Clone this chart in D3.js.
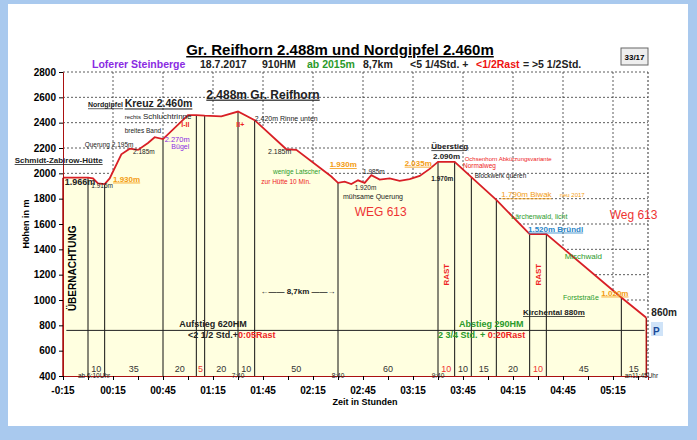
<!DOCTYPE html>
<html><head><meta charset="utf-8">
<script src="https://cdn.jsdelivr.net/npm/d3@7"></script>
<style>body{margin:0;background:#a9c9ee;font-family:Arial,"Liberation Sans",sans-serif}</style>
</head><body><svg id="c" width="697" height="440"></svg>
<script>
// profile: time in minutes from start, elevation in m
const profileTime = [-15,0,3,6,10,13,20,25,30,36,40,45,60,65,70,80,90,100,119,125,146,150,154,158,162,166,170,175,181,187,193,199,205,210,220,230,245,265,275,320,335];
const profileElev = [1966,1966,1960,1920,1915,1960,2150,2195,2185,2240,2285,2270,2460,2460,2455,2450,2488,2420,2190,2185,1975,1925,1935,1915,1945,1925,1985,1950,1960,1940,1955,1980,2035,2090,2090,1970,1790,1520,1520,1020,860];
const segTimes = [0,10,45,65,70,90,100,150,210,220,230,245,265,275,320];
const segLabels = ["10","35","20","5","20","10","50","60","10","10","15","20","10","45","15"];
const segRest = [false,false,false,true,false,false,false,false,true,false,false,false,true,false,false];
const xTickTimes = [-15,15,45,75,105,135,165,195,225,255,285,315];
const xTickLabels = ["-0:15","00:15","00:45","01:15","01:45","02:15","02:45","03:15","03:45","04:15","04:45","05:15"];
const yTicks = [400,600,800,1000,1200,1400,1600,1800,2000,2200,2400,2600,2800];

const svg = d3.select("#c");
svg.append("rect").attr("x",8).attr("y",4).attr("width",680).attr("height",422).attr("fill","#fff");
const x = d3.scaleLinear().domain([-15,336]).range([63,648]);
const y = d3.scaleLinear().domain([400,2800]).range([376,72]);
const pts = profileTime.map((t,i)=>[t,profileElev[i]]);

const g = svg.append("g");
yTicks.slice(1).forEach(v=>g.append("line").attr("x1",63).attr("x2",648).attr("y1",y(v)).attr("y2",y(v)).attr("stroke","#333").attr("stroke-dasharray","2,2").attr("stroke-width",0.8));
d3.range(15,336,30).forEach(t=>g.append("line").attr("x1",x(t)).attr("x2",x(t)).attr("y1",72).attr("y2",376).attr("stroke","#333").attr("stroke-dasharray","2,2").attr("stroke-width",0.8));
g.append("line").attr("x1",648).attr("x2",648).attr("y1",72).attr("y2",376).attr("stroke","#333").attr("stroke-dasharray","2,2");

const area = d3.area().x(d=>x(d[0])).y0(y(400)).y1(d=>y(d[1]));
svg.append("path").datum(pts).attr("d",area).attr("fill","#ffffe0");
const interp = t=>{for(let i=1;i<pts.length;i++){if(t<=pts[i][0]){const a=pts[i-1],b=pts[i];return a[1]+(b[1]-a[1])*(t-a[0])/(b[0]-a[0]);}}return pts[pts.length-1][1];};
segTimes.forEach(t=>svg.append("line").attr("x1",x(t)).attr("x2",x(t)).attr("y1",y(400)).attr("y2",y(interp(t))).attr("stroke","#111").attr("stroke-width",1));
svg.append("line").attr("x1",x(-15)).attr("x2",x(-15)).attr("y1",y(400)).attr("y2",y(1966)).attr("stroke","#a11").attr("stroke-width",1.5);
svg.append("line").attr("x1",x(335)).attr("x2",x(335)).attr("y1",y(400)).attr("y2",y(860)).attr("stroke","#a11").attr("stroke-width",1.5);
svg.append("path").datum(pts).attr("d",d3.line().x(d=>x(d[0])).y(d=>y(d[1]))).attr("fill","none").attr("stroke","#d81f26").attr("stroke-width",1.8);

const ya = svg.append("g").attr("transform","translate(63,0)").call(d3.axisLeft(y).tickValues(yTicks).tickSize(4).tickFormat(d3.format("d")));
ya.selectAll("text").attr("font-size",10).attr("font-weight","bold").attr("font-family","Arial");
ya.select(".domain").attr("stroke","#a11");
const xa = svg.append("g").attr("transform","translate(0,376)").call(d3.axisBottom(x).tickValues(d3.range(-15,336,15)).tickSize(4).tickFormat(""));
xa.select(".domain").attr("stroke","#a11");
xTickTimes.forEach((t,i)=>svg.append("text").attr("x",x(t)).attr("y",394).attr("text-anchor","middle").attr("font-size",10).attr("font-weight","bold").text(xTickLabels[i]));
svg.append("text").attr("x",365).attr("y",405).attr("text-anchor","middle").attr("font-size",9).attr("font-weight","bold").text("Zeit in  Stunden");
svg.append("text").attr("transform","translate(29,224) rotate(-90)").attr("text-anchor","middle").attr("font-size",9).attr("font-weight","bold").text("Höhen in m");

segTimes.forEach((t,i)=>{const t2=i<segTimes.length-1?segTimes[i+1]:335;
 svg.append("text").attr("x",x((t+t2)/2)).attr("y",372).attr("text-anchor","middle").attr("font-size",9).attr("fill",segRest[i]?"#e33":"#333").text(segLabels[i]);});

function T(t,e,s,o={}){const n=svg.append("text").attr("x",x(t)).attr("y",y(e)).attr("font-size",o.fs||7).attr("fill",o.c||"#222").attr("text-anchor",o.a||"start").attr("font-weight",o.b?"bold":"normal").text(s);if(o.u)n.attr("text-decoration","underline");return n;}
svg.append("text").attr("x",340).attr("y",55).attr("text-anchor","middle").attr("font-size",15).attr("font-weight","bold").attr("text-decoration","underline").text("Gr. Reifhorn 2.488m und Nordgipfel 2.460m");
const st = svg.append("text").attr("y",68).attr("font-size",10.5).attr("font-weight","bold");
[["Loferer Steinberge  ","#8a2be2",92],["18.7.2017","#222",200],["910HM","#222",262],["ab 2015m","#2a9a2a",307],["8,7km","#222",363],["<5 1/4Std. + ","#222",410],["<1/2Rast","#e11",476],[" = >5 1/2Std.","#222",520]].forEach(a=>st.append("tspan").attr("x",a[2]).attr("fill",a[1]).text(a[0]));
svg.append("rect").attr("x",621).attr("y",48).attr("width",27).attr("height",17).attr("fill","#eee").attr("stroke","#666");
svg.append("text").attr("x",634.5).attr("y",60).attr("text-anchor","middle").attr("font-size",8).attr("font-weight","bold").text("33/17");

T(105,2590,"2.488m  Gr. Reifhorn",{fs:12,b:1,u:1,a:"middle"});
T(0,2520,"Nordgipfel",{fs:7,b:1,u:1}); T(22,2520,"Kreuz 2.460m",{fs:10.5,b:1,u:1});
T(22,2430,"rechts",{fs:6}); T(33,2430,"Schluchtrinne",{fs:8});
T(22,2320,"breites Band",{fs:6.5});
T(-2,2210,"Querung 2.195m",{fs:6.5}); T(27,2150,"2.185m",{fs:6.5});
T(46,2250,"2.270m",{fs:7.5,c:"#8a2be2"}); T(50,2190,"Bügel",{fs:7,c:"#8a2be2"});
T(56,2365,"I-II",{fs:7,b:1,c:"#e22"}); T(89,2365,"II+",{fs:7,b:1,c:"#e22"});
T(100,2415,"2.420m Rinne unten",{fs:7});
T(108,2150,"2.185m",{fs:7});
T(-44,2080,"Schmidt-Zabirow-Hütte",{fs:8,b:1,u:1});
T(-14,1905,"1.966m",{fs:9,b:1}); T(2,1885,"1.915m",{fs:6.5});
T(15,1935,"1.930m",{fs:8,b:1,c:"#f39c12",u:1});
T(111,1995,"wenige Latscher",{fs:6.5,c:"#2a9a2a"}); T(104,1915,"zur Hütte 10 Min.",{fs:6.5,c:"#e22"});
T(145,2050,"1.930m",{fs:8,b:1,c:"#f39c12",u:1});
T(165,1995,"1.985m",{fs:6.5}); T(160,1870,"1.920m",{fs:6.5});
T(153,1800,"mühsame Querung",{fs:7});
T(160,1665,"WEG 613",{fs:12,c:"#e33"});
T(190,2060,"2.035m",{fs:8,b:1,c:"#f39c12",u:1});
T(206,2190,"Überstieg",{fs:8,b:1,u:1}); T(207,2110,"2.090m",{fs:8,b:1});
T(226,2100,"Ochsenhorn Abkürzungsvariante",{fs:6,c:"#e22"}); T(225,2040,"Normalweg",{fs:6.5,c:"#e22"});
T(206,1940,"1.970m",{fs:6.5,b:1}); T(232,1965,"Blockwerk queren",{fs:6.5});
T(248,1810,"1.790m Biwak",{fs:8,c:"#f39c12",u:1}); T(283,1810,"neu 2017",{fs:6,c:"#f39c12"});
T(254,1640,"Lärchenwald, licht",{fs:7,c:"#2a9a2a"});
T(313,1640,"Weg 613",{fs:12,c:"#e33"});
T(264,1540,"1.520m Bründl",{fs:8,b:1,c:"#2a86c8",u:1});
T(286,1325,"Mischwald",{fs:8,c:"#2a9a2a"});
T(308,1035,"1.020m",{fs:8,b:1,c:"#f39c12",u:1});
T(285,1000,"Forststraße",{fs:7,c:"#2a9a2a"});
T(261,880,"Kirchental 880m",{fs:8,b:1,u:1});
T(338,870,"860m",{fs:10,b:1});
svg.append("rect").attr("x",651).attr("y",322).attr("width",12).attr("height",14).attr("fill","#cfe3f8");
T(339,720,"P",{fs:10,b:1,c:"#1a4a9a"});
svg.append("text").attr("transform",`translate(${x(-7)},${y(1250)}) rotate(-90)`).attr("text-anchor","middle").attr("font-size",10).attr("font-weight","bold").text("ÜBERNACHTUNG");
[215,270].forEach(t=>svg.append("text").attr("transform",`translate(${x(t)+3},${y(1200)}) rotate(-90)`).attr("text-anchor","middle").attr("font-size",8).attr("font-weight","bold").attr("fill","#e22").text("RAST"));
T(126,1050,"←——   8,7km   ——→",{fs:8,b:1,a:"middle"});
svg.append("line").attr("x1",x(-13)).attr("x2",x(334)).attr("y1",y(760)).attr("y2",y(760)).attr("stroke","#222");
T(75,790,"Aufstieg 620HM",{fs:9,b:1,a:"middle"});
const a2=T(60,700,"<2 1/2  Std.+",{fs:9,b:1}); a2.append("tspan").attr("fill","#e22").text("0:05Rast");
T(242,790,"Abstieg 290HM",{fs:9,b:1,a:"middle",c:"#2a9a2a"});
const a3=T(210,700,"2 3/4 Std.  + ",{fs:9,b:1,c:"#2a9a2a"}); a3.append("tspan").attr("fill","#e22").text("0:20Rast");
T(-6,385,"ab 6:10Uhr",{fs:6.5}); T(90,385,"7:40",{fs:6.5,a:"middle"}); T(150,385,"8:40",{fs:6.5,a:"middle"}); T(210,385,"9:40",{fs:6.5,a:"middle"}); T(322,385,"an11:45Uhr",{fs:6.5});
</script></body></html>
